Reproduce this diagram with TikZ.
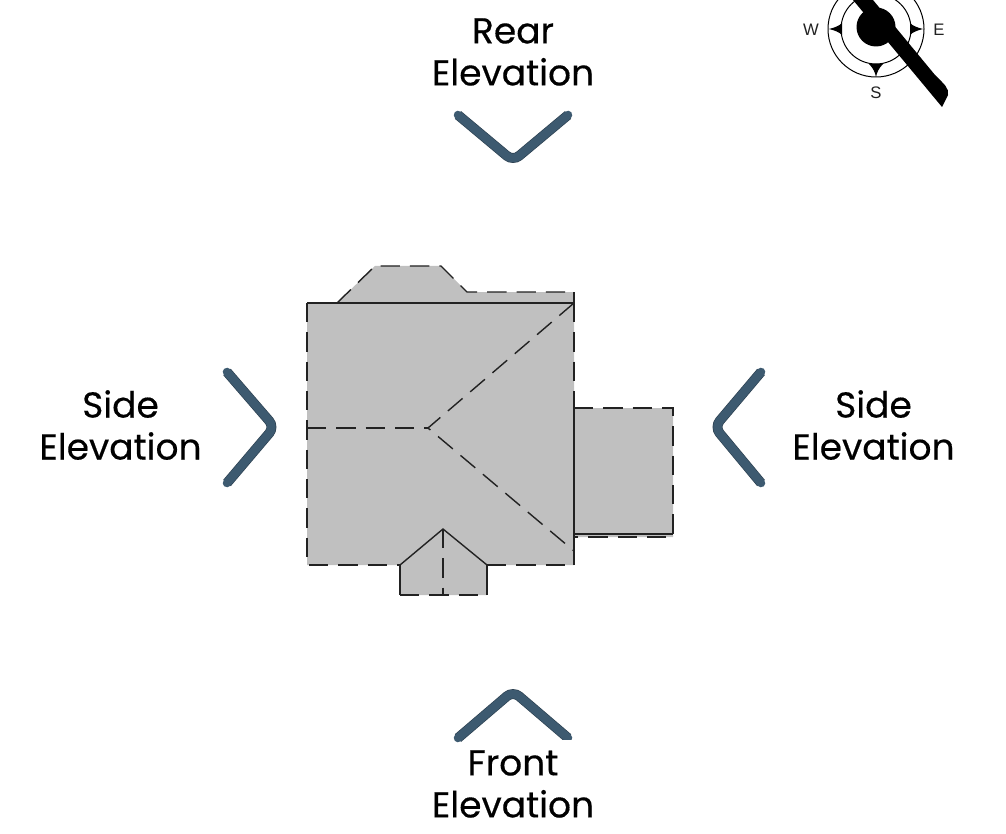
\documentclass[tikz,border=0pt]{standalone}
\usepackage{fontspec}
\setmainfont[FakeBold=0.35]{Poppins}
\newfontfamily\compassfont{Liberation Sans}
\definecolor{roof}{HTML}{C0C0C0}
\definecolor{chev}{HTML}{3D5A70}
\definecolor{chevdark}{HTML}{2C4050}
\definecolor{edge}{HTML}{222222}
\tikzset{
  roofline/.style={draw=edge,line width=1.05pt},
  roofdash/.style={roofline,dash pattern=on 14.5pt off 7.5pt},
  chevron/.style={line cap=round,line join=round,rounded corners=6pt,
    preaction={draw=chevdark,line width=7.4pt},draw=chev,line width=6.4pt},
  elev/.style={align=center,inner sep=0pt,font=\fontsize{27}{31.5}\selectfont,text=black},
  dir/.style={inner sep=0pt,font=\compassfont\fontsize{12.5}{14}\selectfont,text=edge},
}
\begin{document}
\begin{tikzpicture}[x=0.75pt,y=-0.75pt]
\fill[white] (0,0) rectangle (1006,834);
\useasboundingbox (0,0) rectangle (1006,834);
% roof fill
\fill[roof] (307,303) -- (337,303) -- (375,266) -- (441,266) -- (467,292) -- (574,292) -- (574,408) -- (673,408) -- (673,537) -- (574,537) -- (574,565) -- (487,565) -- (487,595) -- (400,595) -- (400,565) -- (307,565) -- cycle;
% solid roof lines
\draw[roofline] (307,303) -- (574,303);
\draw[roofline] (574,408) -- (574,565);
\draw[roofline] (574,534) -- (673,534);
\draw[roofline] (400,565) -- (400,595);
\draw[roofline] (487,565) -- (487,595);
\draw[roofline] (400,565) -- (443,529) -- (487,565);
\draw[roofline] (574,292) -- (574,303);
% dashed roof lines
\draw[roofdash] (307,303) -- (307,565) -- (400,565);
\draw[roofdash] (337,303) -- (375,266) -- (441,266) -- (467,292) -- (574,292);
\draw[roofdash] (574,303) -- (574,408);
\draw[roofdash] (574,408) -- (673,408) -- (673,537) -- (574,537);
\draw[roofdash] (487,565) -- (574,565);
\draw[roofdash] (400,595) -- (487,595);
\draw[roofdash] (307,428) -- (428,428);
\draw[roofdash] (574,303) -- (428,428) -- (574,551);
\draw[roofdash] (443,529) -- (443,595);
% chevrons
\path[chevron] (458,115) -- (513,161) -- (568,115);
\path[chevron] (227,372) -- (274.5,427) -- (227,483);
\path[chevron] (761,372) -- (714.5,427) -- (761,483);
\path[chevron] (458,738) -- (513,691) -- (568,738);
\fill[white] (465,740) rectangle (575,750);
% labels
\node[elev] (rear) at (513,52) {Rear\\Elevation};
\node[elev] (sideL) at (120.5,425) {Side\\Elevation};
\node[elev] (sideR) at (873.5,425) {Side\\Elevation};
\node[elev] (front) at (513,784) {Front\\Elevation};
% compass
\begin{scope}
\clip (780,0) rectangle (970,120);
\draw[black,line width=0.75pt] (876,29) circle (48);
\draw[black,line width=0.75pt] (876,29) circle (35);
\fill[black] (829,29) .. controls (835,27.5) and (839,26) .. (842,23) -- (842,35) .. controls (839,32) and (835,30.5) .. (829,29) -- cycle;
\fill[black] (923,29) .. controls (917,27.5) and (913,26) .. (910,23) -- (910,35) .. controls (913,32) and (917,30.5) .. (923,29) -- cycle;
\fill[black] (876,77) .. controls (875,72) and (873,68) .. (869,64) -- (883,64) .. controls (879,68) and (877,72) .. (876,77) -- cycle;
\fill[black] (876,27) circle (19.5);
\fill[black] (853,0) -- (942,107) -- (948,95) .. controls (949,88) and (945,85) .. (935,75) -- (873,0) -- cycle;
\end{scope}
\node[dir] (w) at (811,30) {W};
\node[dir] (e) at (939,30) {E};
\node[dir] (s) at (876,93) {S};
\end{tikzpicture}
\end{document}
